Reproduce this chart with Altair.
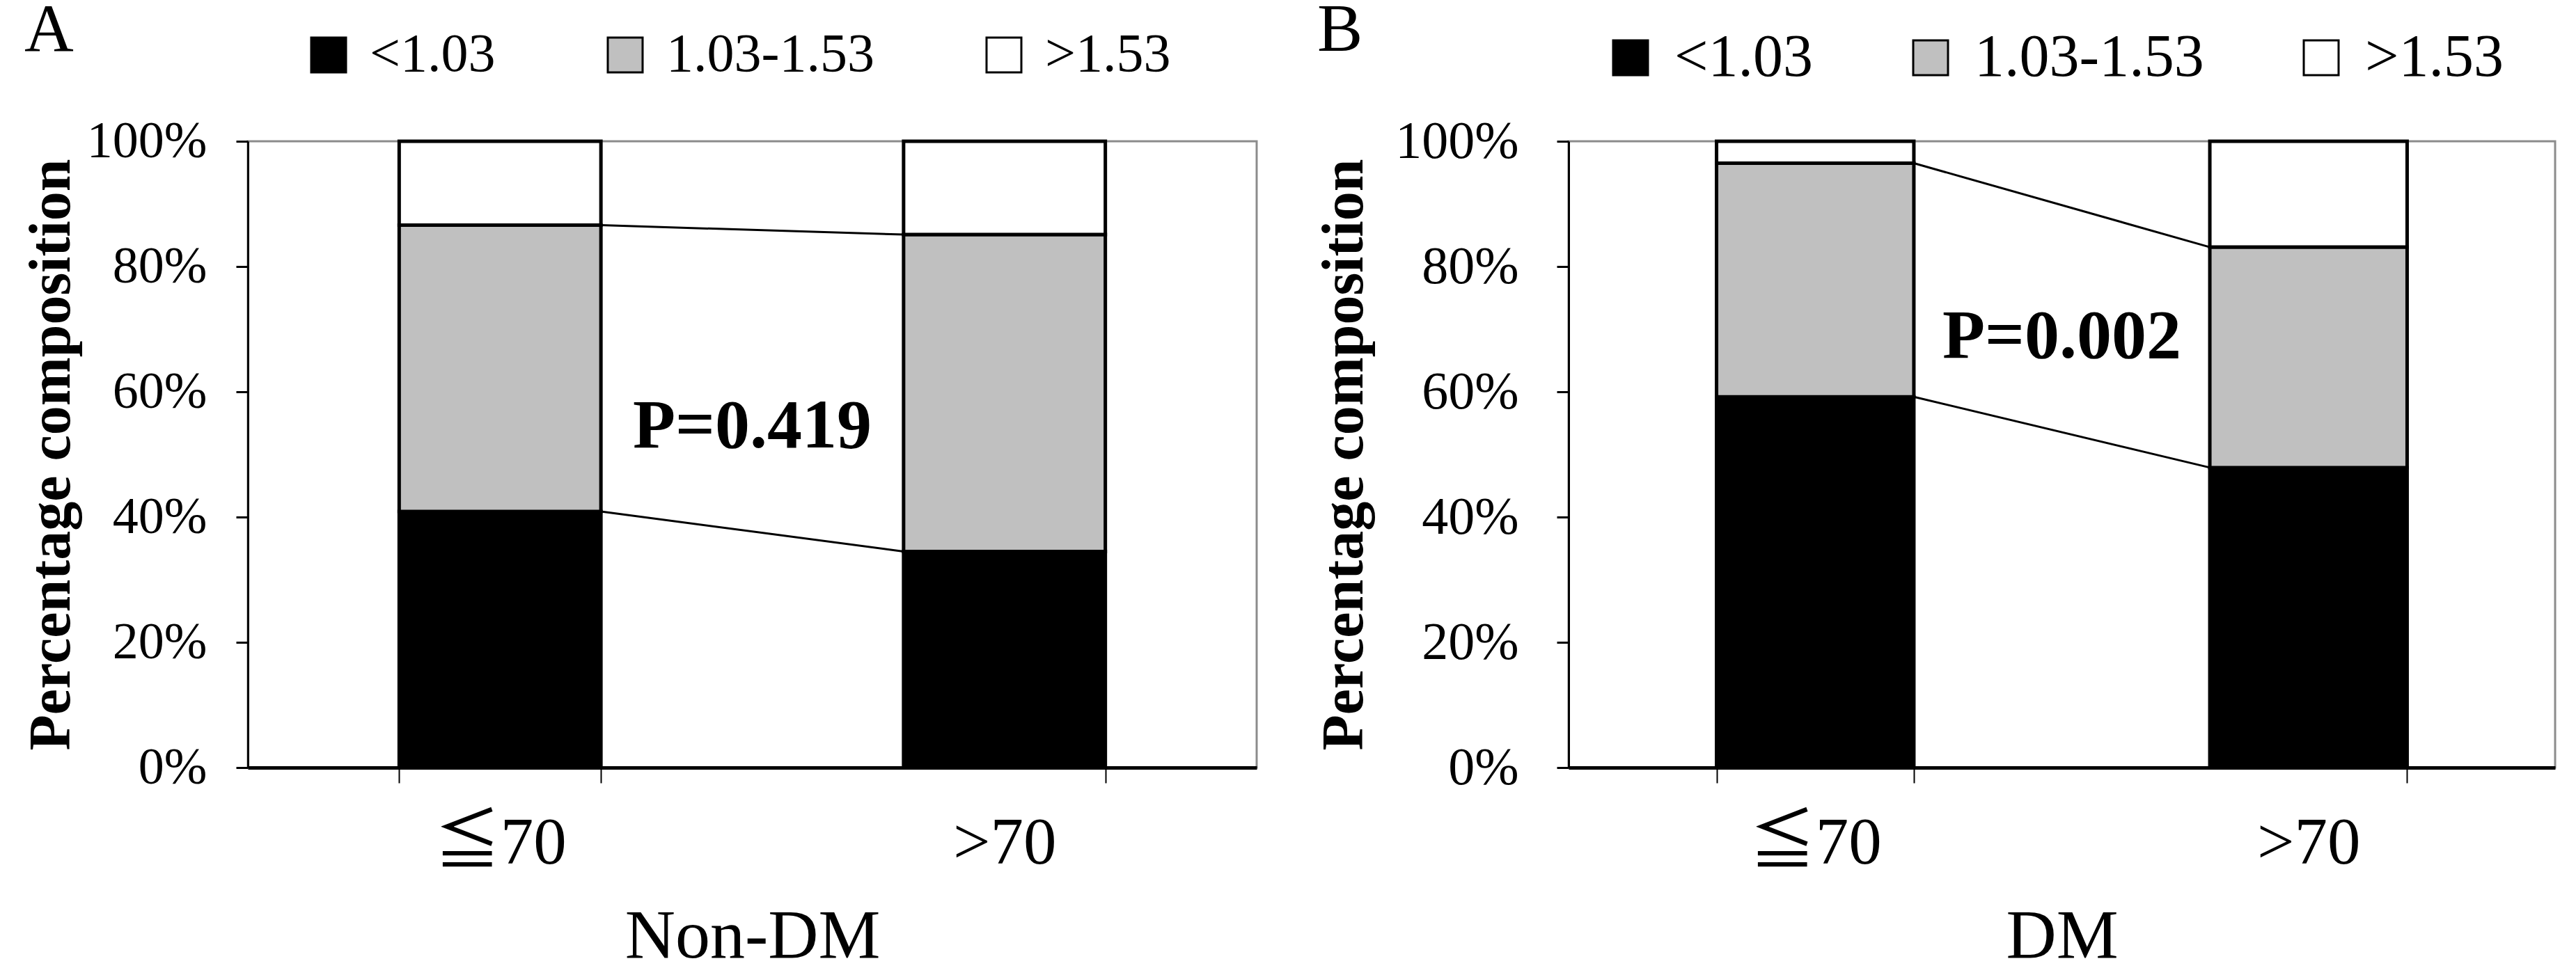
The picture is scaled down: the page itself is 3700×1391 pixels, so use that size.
import altair as alt
import pandas as pd

# ---- data ----
groups = ["<1.03", "1.03-1.53", ">1.53"]
group_colors = ["#000000", "#c0c0c0", "#ffffff"]
ages = ["≦70", ">70"]

nondm_low = [40.9, 34.5]
nondm_mid = [45.7, 50.6]
nondm_high = [13.4, 14.9]

dm_low = [59.2, 47.9]
dm_mid = [37.3, 35.2]
dm_high = [3.5, 16.9]

p_labels = ["P=0.419", "P=0.002"]
p_ypos = [54.4, 68.8]
panel_letters = ["A", "B"]
panel_titles = ["Non-DM", "DM"]
y_ticks = [0, 20, 40, 60, 80, 100]

SERIF = "Liberation Serif, Times New Roman, Noto Sans CJK TC"
YTITLE = "Percentage composition"


def panel(letter, xtitle, low, mid, high, ptext, py, w, h, st):
    rows = []
    for i, a in enumerate(ages):
        base = 0.0
        for k, (g, v) in enumerate(zip(groups, [low[i], mid[i], high[i]])):
            rows.append(dict(age=a, grp=g, k=k, y0=base, y1=base + v))
            base += v
    bars_df = pd.DataFrame(rows)

    lines_df = pd.DataFrame({
        "a1": [ages[0], ages[0]],
        "a2": [ages[1], ages[1]],
        "yf": [low[0], low[0] + mid[0]],
        "yt": [low[1], low[1] + mid[1]],
    })
    text_df = pd.DataFrame({"label": [ptext], "yp": [py]})

    xscale = alt.Scale(domain=ages, paddingInner=0.6, paddingOuter=0.3)
    yscale = alt.Scale(domain=[0, 100], nice=False)
    xaxis = alt.Axis(
        title=xtitle, tickBand="extent", labelAngle=0, labelLimit=2000,
        labelFontSize=95, labelFont=SERIF, labelPadding=40,
        titleFontSize=100, titleFont=SERIF, titleFontWeight="normal", titlePadding=37,
        tickSize=22, tickWidth=2, domainWidth=5,
    )
    yaxis = alt.Axis(
        title=YTITLE, values=y_ticks, labelExpr="datum.value + '%'", labelLimit=2000,
        labelFontSize=st["ylab"], labelFont=SERIF, labelPadding=st["ylabpad"],
        titleFontSize=84, titleFont=SERIF, titleFontWeight="bold", titlePadding=st["ytitpad"],
        tickSize=17, tickWidth=3, domainWidth=3, grid=False,
    )

    bars = alt.Chart(bars_df).mark_bar(stroke="black", strokeWidth=5).encode(
        x=alt.X("age:N", sort=ages, scale=xscale, axis=xaxis),
        y=alt.Y("y0:Q", scale=yscale, axis=yaxis),
        y2="y1:Q",
        color=alt.Color(
            "grp:N",
            scale=alt.Scale(domain=groups, range=group_colors),
            legend=alt.Legend(
                orient="none", legendX=st["legx"], legendY=-163, direction="horizontal",
                title=None, symbolType="square", symbolSize=2500,
                symbolStrokeColor="black", symbolStrokeWidth=3,
                labelFontSize=st["legfont"], labelFont=SERIF, labelColor="black",
                labelOffset=20, columnPadding=st["legpad"], labelLimit=2000,
            ),
        ),
        order=alt.Order("k:Q"),
    )

    rules = alt.Chart(lines_df).mark_rule(color="black", strokeWidth=3).encode(
        x=alt.X("a1:N", sort=ages, scale=xscale, axis=xaxis, bandPosition=1),
        x2=alt.X2("a2:N", bandPosition=0),
        y=alt.Y("yf:Q", scale=yscale, axis=yaxis),
        y2="yt:Q",
    )

    ptext_mark = alt.Chart(text_df).mark_text(
        font=SERIF, fontSize=100, fontWeight="bold", color="black", baseline="middle"
    ).encode(
        x=alt.value(w / 2),
        y=alt.Y("yp:Q", scale=yscale, axis=yaxis),
        text="label:N",
    )

    return alt.layer(bars, rules, ptext_mark).properties(
        width=w, height=h,
        title=alt.TitleParams(
            text=letter, anchor="start", frame="bounds", fontSize=98,
            font=SERIF, fontWeight="normal", color="black",
            dx=st["tdx"], dy=54, offset=0,
        ),
    )


style_a = dict(ylab=74, ylabpad=42, ytitpad=39, legx=77, legfont=78, legpad=147, tdx=3)
style_b = dict(ylab=76, ylabpad=55, ytitpad=79, legx=46, legfont=86, legpad=125, tdx=3)

pa = panel(panel_letters[0], panel_titles[0], nondm_low, nondm_mid, nondm_high,
           p_labels[0], p_ypos[0], 1449, 900, style_a)
pb = panel(panel_letters[1], panel_titles[1], dm_low, dm_mid, dm_high,
           p_labels[1], p_ypos[1], 1417, 900, style_b)

chart = alt.hconcat(pa, pb, spacing=80).resolve_legend(color="independent").properties(
    padding={"left": 22, "top": -15, "right": 0, "bottom": 0}
).configure_view(
    stroke="#8c8c8c", strokeWidth=3
).configure_axis(
    domainColor="black", tickColor="black", labelColor="black", titleColor="black"
)

chart.save("out.html", embed_options={"renderer": "svg", "actions": False})
